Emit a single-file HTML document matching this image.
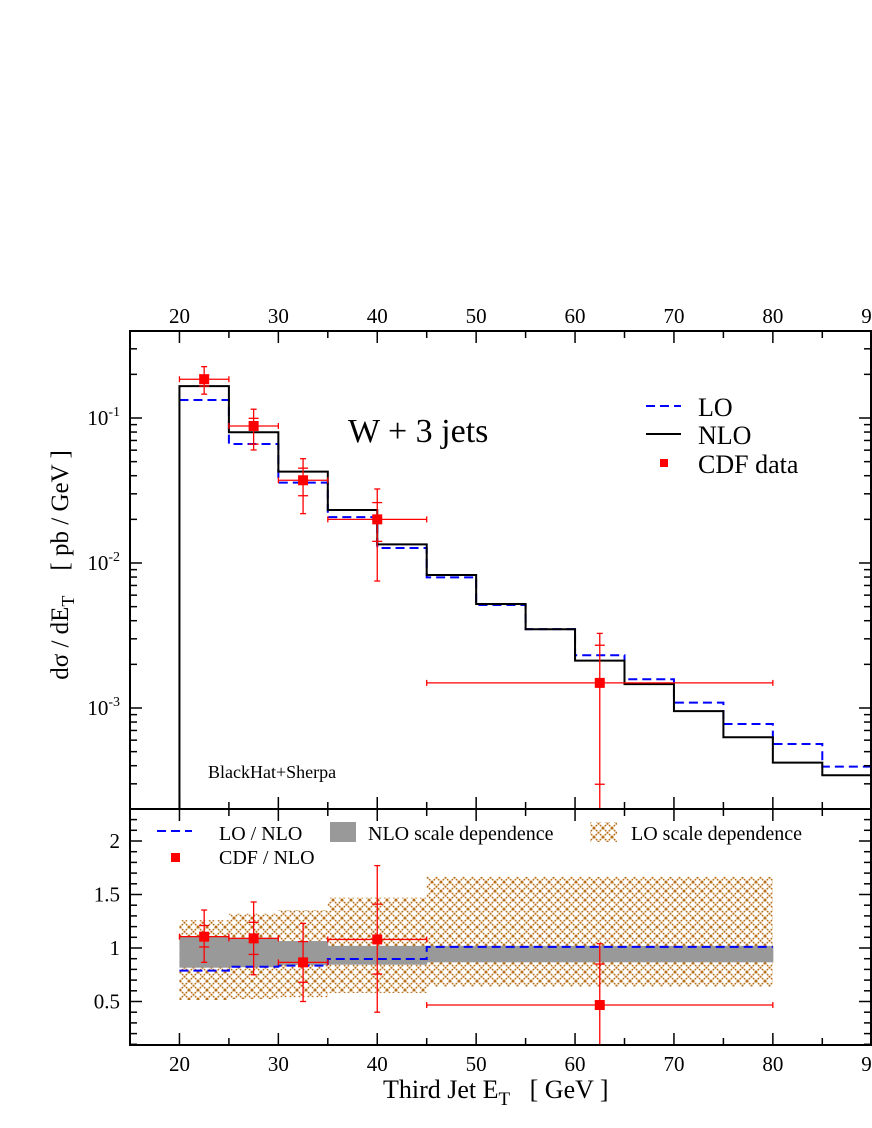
<!DOCTYPE html>
<html><head><meta charset="utf-8"><style>
html,body{margin:0;padding:0;background:#fff}
svg{display:block}
text{font-family:"Liberation Serif",serif}
</style></head><body>
<svg id="c" width="872" height="1128" viewBox="0 0 872 1128" font-family="Liberation Serif, serif">
<defs>
<pattern id="hatch" width="9" height="9" patternUnits="userSpaceOnUse">
<path d="M0,0 L9,9 M9,0 L0,9" stroke="#b8701a" stroke-width="1.4" stroke-dasharray="2,0.8"/>
</pattern>
<clipPath id="clipU"><rect x="130" y="331" width="742" height="478"/></clipPath>
<clipPath id="clipL"><rect x="130" y="809" width="742" height="236"/></clipPath>
</defs>
<g id="root"></g>
</svg>
<script>
const binEdges=[20,25,30,35,40,45,50,55,60,65,70,75,80,85,90];
const nloVals=[0.166,0.0797,0.0427,0.0232,0.01345,0.00826,0.00521,0.00349,0.00212,0.00146,0.000952,0.000628,0.00042,0.000344];
const loVals=[0.133,0.0662,0.0358,0.0207,0.0127,0.00796,0.00513,0.0035,0.00231,0.00158,0.00109,0.000776,0.000565,0.000394];
const dataX=[22.5,27.5,32.5,40,62.5];
const dataXlo=[20,25,30,35,45];
const dataXhi=[25,30,35,45,80];
const dataY=[0.185,0.0881,0.0372,0.0200,0.00149];
const dataOutHi=[0.226,0.115,0.0524,0.0324,0.00327];
const dataOutLo=[0.146,0.0602,0.0219,0.00751,0.0001];
const dataInHi=[0.198,0.0995,0.0451,0.0261,0.00271];
const dataInLo=[0.166,0.066,0.0291,0.0141,0.000298];
const ratioEdges=[20,25,30,35,45,80];
const loBandHi=[1.26,1.32,1.355,1.47,1.666];
const loBandLo=[0.514,0.523,0.54,0.58,0.64];
const nloBandHi=[1.112,1.096,1.065,1.02,1.02];
const nloBandLo=[0.816,0.82,0.84,0.844,0.866];
const loRatio=[0.788,0.825,0.835,0.897,1.01];
const cdfRatio=[1.106,1.09,0.866,1.08,0.467];
const cdfOutHi=[1.355,1.43,1.23,1.77,1.04];
const cdfOutLo=[0.866,0.75,0.50,0.40,-0.5];
const cdfInHi=[1.21,1.24,1.06,1.41,0.85];
const cdfInLo=[1.01,0.94,0.68,0.757,-0.5];
const xTicks=[20,30,40,50,60,70,80,90];
const ratioTicks=[0.5,1,1.5,2];
const ratioTickLabels=["0.5","1","1.5","2"];

const NS="http://www.w3.org/2000/svg";
const root=document.getElementById('root');
const X=v=>130+(v-15)*9.89;
const YU=v=>418-145*(Math.log10(v)+1);
const YL=v=>948-107*(v-1);
function mk(tag,attrs,parent){const e=document.createElementNS(NS,tag);for(const k in attrs)e.setAttribute(k,attrs[k]);(parent||root).appendChild(e);return e;}
function txt(s,x,y,size,anchor,parent){const t=mk('text',{x:x,y:y,'font-size':size,'text-anchor':anchor||'middle',fill:'#000','font-family':'Liberation Serif, serif'},parent);t.textContent=s;return t;}

const gL=mk('g',{'clip-path':'url(#clipL)'});


for(let i=0;i<loBandHi.length;i++){
 const r=mk('rect',{x:X(ratioEdges[i]),y:YL(loBandHi[i]),width:X(ratioEdges[i+1])-X(ratioEdges[i]),height:YL(loBandLo[i])-YL(loBandHi[i]),fill:'url(#hatch)'},gL);
 
 
}
for(let i=0;i<nloBandHi.length;i++){
 const r=mk('rect',{x:X(ratioEdges[i]),y:YL(nloBandHi[i]),width:X(ratioEdges[i+1])-X(ratioEdges[i])+0.5,height:YL(nloBandLo[i])-YL(nloBandHi[i]),fill:'#999'},gL);
 
 
}
function stepPath(edges,vals,Y){let d='';for(let i=0;i<vals.length;i++){d+=(i?'L':'M')+X(edges[i])+','+Y(vals[i])+'L'+X(edges[i+1])+','+Y(vals[i]);}return d;}
const lr=mk('path',{d:stepPath(ratioEdges,loRatio,YL),fill:'none',stroke:'#00f','stroke-width':2,'stroke-dasharray':'9,5'},gL);


function errPoint(g,x,xl,xh,y,oh,ol,ih,il,Y,name){
 const gp=mk('g',{stroke:'#f00','stroke-width':1.3},g);
 
 
 const cx=X(x),cy=Y(y);
 mk('line',{x1:X(xl),x2:X(xh),y1:cy,y2:cy},gp);
 mk('line',{x1:X(xl),x2:X(xl),y1:cy-3,y2:cy+3},gp);
 mk('line',{x1:X(xh),x2:X(xh),y1:cy-3,y2:cy+3},gp);
 mk('line',{x1:cx,x2:cx,y1:Y(oh),y2:Y(ol)},gp);
 [oh,ol].forEach(v=>mk('line',{x1:cx-3,x2:cx+3,y1:Y(v),y2:Y(v)},gp));
 [ih,il].forEach(v=>mk('line',{x1:cx-5,x2:cx+5,y1:Y(v),y2:Y(v)},gp));
 mk('rect',{x:cx-5,y:cy-5,width:10,height:10,fill:'#f00',stroke:'none'},gp);
}
for(let i=0;i<cdfRatio.length;i++)errPoint(gL,dataX[i],dataXlo[i],dataXhi[i],cdfRatio[i],cdfOutHi[i],cdfOutLo[i],cdfInHi[i],cdfInLo[i],YL,'cdf-nlo-point');

const gU=mk('g',{'clip-path':'url(#clipU)'});


const lo=mk('path',{d:stepPath(binEdges,loVals,YU),fill:'none',stroke:'#00f','stroke-width':2,'stroke-dasharray':'9,5'},gU);


const nlo=mk('path',{d:'M'+X(20)+',820L'+stepPath(binEdges,nloVals,YU).slice(1),fill:'none',stroke:'#000','stroke-width':2},gU);


for(let i=0;i<dataY.length;i++)errPoint(gU,dataX[i],dataXlo[i],dataXhi[i],dataY[i],dataOutHi[i],dataOutLo[i],dataInHi[i],dataInLo[i],YU,'cdf-data-point');

const fr=mk('g',{stroke:'#000','stroke-width':2,fill:'none'});


mk('rect',{x:130,y:331,width:742,height:714},fr);
mk('line',{x1:130,x2:872,y1:809,y2:809},fr);
mk('line',{x1:871,x2:871,y1:331,y2:1045},fr);
const tk=mk('g',{stroke:'#000','stroke-width':1.5});


for(let v=20;v<=90;v+=5){
 const L=(v%10===0)?12:7,x=X(v);
 [[331,1],[809,-1],[809,1],[1045,-1]].forEach(([y,s])=>mk('line',{x1:x,x2:x,y1:y,y2:y+s*L},tk));
}
for(let e=-4;e<=0;e++)for(let m=1;m<10;m++){
 const v=m*Math.pow(10,e),y=YU(v);if(y<331||y>809)continue;
 const L=m===1?12:7;
 mk('line',{x1:130,x2:130+L,y1:y,y2:y},tk);mk('line',{x1:871,x2:871-L,y1:y,y2:y},tk);
}
for(let k=1;k<=23;k++){
 const v=k/10,y=YL(v);if(y<809||y>1045)continue;
 const L=(k%5===0)?12:7;
 mk('line',{x1:130,x2:130+L,y1:y,y2:y},tk);mk('line',{x1:871,x2:871-L,y1:y,y2:y},tk);
}
xTicks.forEach(v=>{const t=txt(String(v),X(v),323,21);
 const b=txt(String(v),X(v),1071,21);});
[-1,-2,-3].forEach(e=>{const t=mk('text',{x:120,y:YU(Math.pow(10,e))+7,'font-size':21,'text-anchor':'end','font-family':'Liberation Serif, serif'});
 
 t.innerHTML='10<tspan dy="-9" font-size="14">'+e+'</tspan>';});
ratioTicks.forEach((v,i)=>{const t=txt(ratioTickLabels[i],120,YL(v)+7,21,'end');});
</script>
<svg style="position:absolute;left:0;top:0" width="872" height="1128" font-family="Liberation Serif, serif">
<g>
<text x="68" y="565" font-size="25" text-anchor="middle" xml:space="preserve" transform="rotate(-90 68 565)">dσ / dE<tspan dy="6" font-size="18">T</tspan><tspan dy="-6">    [ pb / GeV ]</tspan></text>
<text x="383" y="1098" font-size="26" xml:space="preserve">Third Jet E<tspan dy="7" font-size="19">T</tspan><tspan dy="-7">   [ GeV ]</tspan></text>
<text x="348" y="442" font-size="34">W + 3 jets</text>
<text x="208" y="778" font-size="18">BlackHat+Sherpa</text>
<g>
<line x1="646" x2="681" y1="406" y2="406" stroke="#00f" stroke-width="2" stroke-dasharray="9,5"/>
<text x="698" y="416" font-size="26">LO</text>
<line x1="646" x2="681" y1="434" y2="434" stroke="#000" stroke-width="2"/>
<text x="698" y="444" font-size="26">NLO</text>
<rect x="660" y="459" width="8" height="8" fill="#f00"/>
<text x="698" y="473" font-size="26">CDF data</text>
</g>
<g>
<line x1="157" x2="192" y1="831" y2="831" stroke="#00f" stroke-width="2" stroke-dasharray="9,5"/>
<text x="219" y="840" font-size="20">LO / NLO</text>
<rect x="330" y="822" width="26" height="20" fill="#999"/>
<text x="368" y="840" font-size="20">NLO scale dependence</text>
<rect x="590" y="822" width="27" height="20" fill="url(#hatch)"/>
<text x="631" y="840" font-size="20">LO scale dependence</text>
<rect x="171" y="853" width="9" height="9" fill="#f00"/>
<text x="219" y="864" font-size="20">CDF / NLO</text>
</g>
</g>
</svg>
</body></html>
